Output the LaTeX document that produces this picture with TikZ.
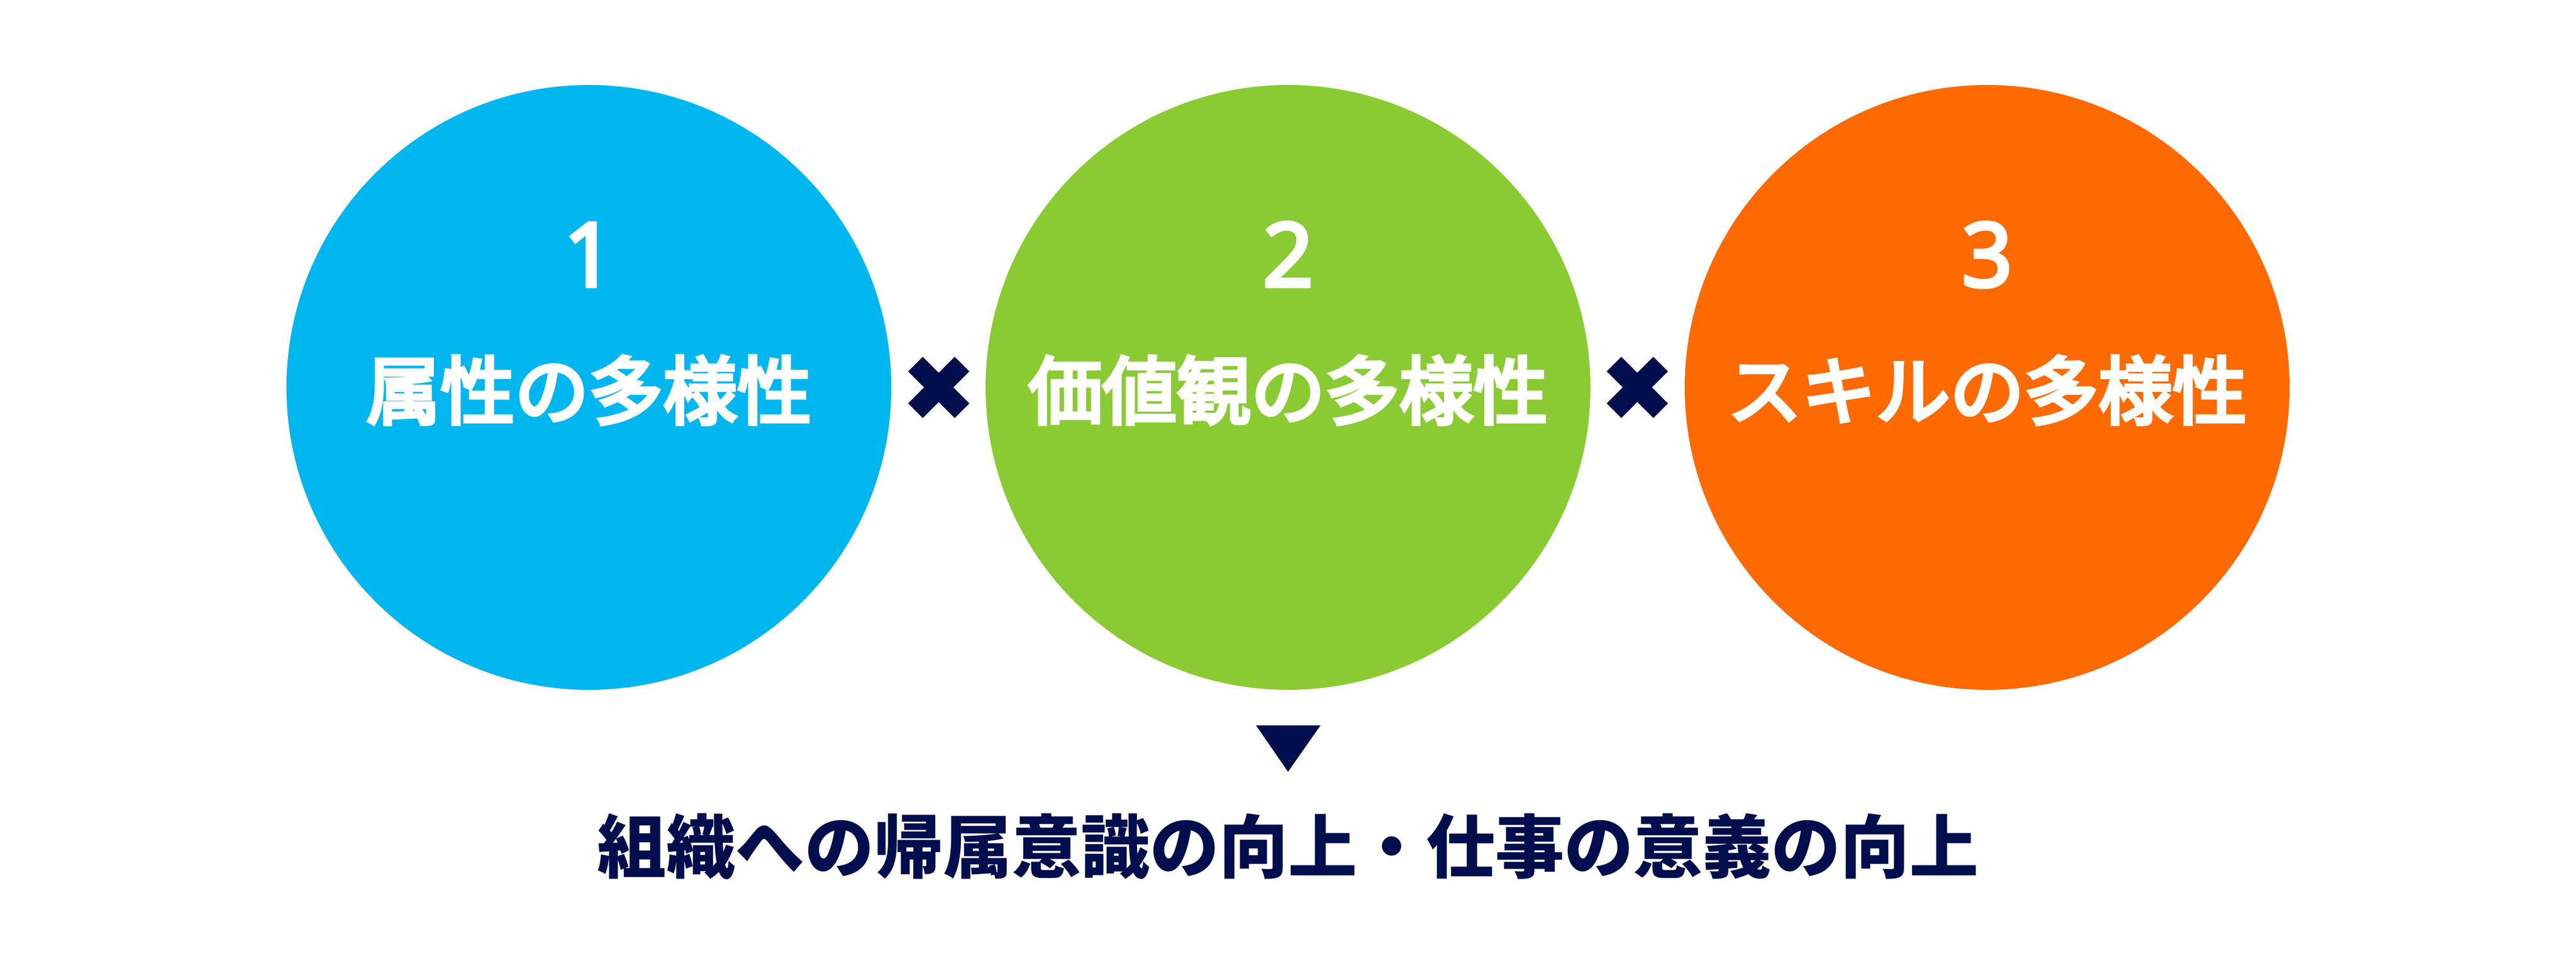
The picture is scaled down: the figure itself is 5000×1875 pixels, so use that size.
\documentclass[tikz,border=0pt]{standalone}
\usepackage{fontspec}
\newfontfamily\jp{Noto Sans CJK JP}
\newfontfamily\jpm{Noto Sans CJK JP}[FakeBold=5]
\newfontfamily\digitfont{Noto Sans}[FakeBold=4]
\definecolor{cblue}{RGB}{0,182,239}
\definecolor{cgreen}{RGB}{138,203,52}
\definecolor{corange}{RGB}{255,106,0}
\definecolor{navy}{RGB}{0,14,77}
\tikzset{
  bubble/.style={circle,minimum size=1174*0.2pt,inner sep=0pt,draw=none},
  numtext/.style={text=white,anchor=base,inner sep=0pt,font=\digitfont\fontsize{34.4pt}{40pt}\selectfont},
  labtext/.style={text=white,anchor=base,inner sep=0pt,font=\jpm\fontsize{28.8pt}{34pt}\selectfont},
  bottomtext/.style={text=navy,anchor=base,inner sep=0pt,font=\jp\bfseries\fontsize{26.8pt}{32pt}\selectfont},
  crossarm/.style={fill=navy,draw=none,minimum width=128*0.2pt,minimum height=40*0.2pt,inner sep=0pt,rectangle}
}
\begin{document}
\begin{tikzpicture}[x=0.2pt,y=-0.2pt]
\useasboundingbox (0,0) rectangle (5000,1875);
\node[bubble,fill=cblue] (c1) at (1143,752) {};
\node[bubble,fill=cgreen] (c2) at (2500,752) {};
\node[bubble,fill=corange] (c3) at (3857,752) {};
\node[numtext] (n1) at (1143,556) {1};
\node[numtext] (n2) at (2500,556) {2};
\node[numtext] (n3) at (3857,556) {3};
\node[labtext] (l1) at (1143,812) {属性の多様性};
\node[labtext] (l2) at (2500,812) {価値観の多様性};
\node[labtext] (l3) at (3857,812) {スキルの多様性};
\node[crossarm,rotate=45] (x1a) at (1822,752) {};
\node[crossarm,rotate=-45] (x1b) at (1822,752) {};
\node[crossarm,rotate=45] (x2a) at (3178,752) {};
\node[crossarm,rotate=-45] (x2b) at (3178,752) {};
\coordinate (t1) at (2438,1408);
\coordinate (t2) at (2563,1408);
\coordinate (t3) at (2500,1498);
\fill[navy] (t1) -- (t2) -- (t3) -- cycle;
\node[bottomtext] (res) at (2500,1693) {組織への帰属意識の向上・仕事の意義の向上};
\end{tikzpicture}
\end{document}
